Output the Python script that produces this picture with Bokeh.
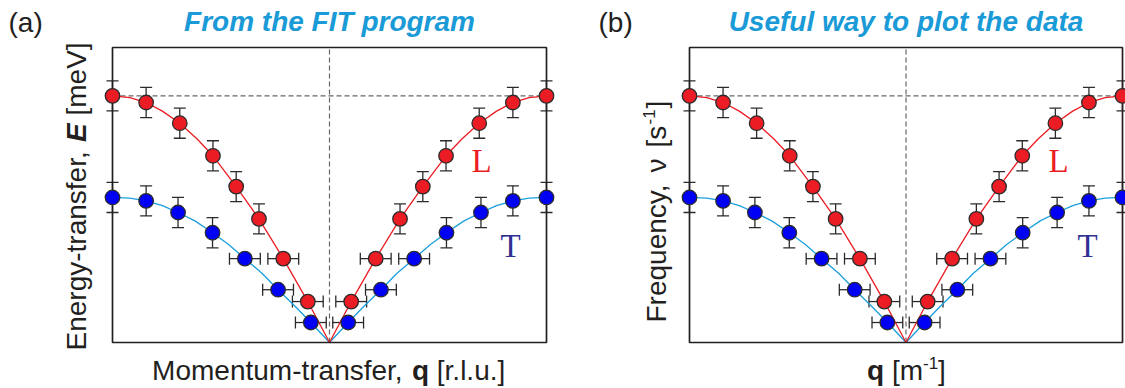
import math
from bokeh.plotting import figure
from bokeh.models import ColumnDataSource, Whisker, TeeHead, Label, Range1d
from bokeh.layouts import row
from bokeh.embed import file_html
from bokeh.resources import INLINE

# ---------------- data ----------------
# longitudinal branch (L), red
q_L = [-1.0, -0.845, -0.69, -0.537, -0.43, -0.325, -0.213, -0.10,
       0.10, 0.213, 0.325, 0.43, 0.537, 0.69, 0.845, 1.0]
E_L = [10.0, 9.73, 8.89, 7.57, 6.32, 5.01, 3.40, 1.66,
       1.66, 3.40, 5.01, 6.32, 7.57, 8.89, 9.73, 10.0]
err_dir_L = ["E", "E", "E", "E", "E", "E", "q", "q",
             "q", "q", "E", "E", "E", "E", "E", "E"]
# transverse branch (T), blue
q_T = [-1.0, -0.845, -0.698, -0.539, -0.39, -0.237, -0.086,
       0.086, 0.237, 0.39, 0.539, 0.698, 0.845, 1.0]
E_T = [5.88, 5.74, 5.27, 4.45, 3.40, 2.14, 0.81,
       0.81, 2.14, 3.40, 4.45, 5.27, 5.74, 5.88]
err_dir_T = ["E", "E", "E", "E", "q", "q", "q",
             "q", "q", "q", "E", "E", "E", "E"]
E_err = 0.61   # vertical error half-width
q_err = 0.071  # horizontal error half-width

# fitted dispersion curves
fit_q_L = [-1.0, -0.92, -0.845, -0.77, -0.69, -0.61, -0.537, -0.43, -0.325, -0.213, -0.10, 0.0,
           0.10, 0.213, 0.325, 0.43, 0.537, 0.61, 0.69, 0.77, 0.845, 0.92, 1.0]
fit_E_L = [10.0, 9.93, 9.73, 9.38, 8.89, 8.25, 7.57, 6.32, 5.01, 3.40, 1.66, 0.0,
           1.66, 3.40, 5.01, 6.32, 7.57, 8.25, 8.89, 9.38, 9.73, 9.93, 10.0]
fit_q_T = [-1.0, -0.92, -0.845, -0.77, -0.698, -0.62, -0.539, -0.465, -0.39, -0.31, -0.237, -0.16, -0.086, 0.0,
           0.086, 0.16, 0.237, 0.31, 0.39, 0.465, 0.539, 0.62, 0.698, 0.77, 0.845, 0.92, 1.0]
fit_E_T = [5.88, 5.85, 5.74, 5.55, 5.27, 4.93, 4.45, 3.97, 3.40, 2.80, 2.14, 1.48, 0.81, 0.0,
           0.81, 1.48, 2.14, 2.80, 3.40, 3.97, 4.45, 4.93, 5.27, 5.55, 5.74, 5.85, 5.88]
E_top = 10.0   # level of the horizontal dashed line
q_min, q_max = -1.0, 1.0
E_min, E_max = 0.0, 11.96

RED = "#ec1c24"
BLUE = "#0000f5"
CYAN = "#1b9fdc"
DARK = "#231f20"
TITLE = "#1a9ad6"
TBLUE = "#2e3192"
FONT = "Liberation Sans"
SERIF = "Liberation Serif"

H = 388
TOP, BOTTOM = 47, 46
BASE_FIX = 0.36   # renderer places alphabetic baseline ~0.36 em low


def make_panel(width, left, right, page_x0, panel_tag, title, xlab, ylab, ylab_x, lt_shift):
    fw = width - left - right
    fh = H - TOP - BOTTOM
    fx0 = page_x0 + left

    def X(px):
        return q_min + (q_max - q_min) * (px - fx0) / fw

    def Y(py):
        return E_min + (H - BOTTOM - py) * (E_max - E_min) / fh

    p = figure(width=width, height=H,
               x_range=Range1d(X(page_x0), X(page_x0 + width)),
               y_range=Range1d(Y(H), Y(0)),
               output_backend="svg", toolbar_location=None,
               min_border_left=0, min_border_right=0,
               min_border_top=0, min_border_bottom=0)
    p.xaxis.visible = False
    p.yaxis.visible = False
    p.grid.visible = False
    p.outline_line_color = None
    p.background_fill_color = "white"
    p.border_fill_color = "white"

    def lab(px, py, text, size, style="normal", color=DARK, align="left",
            angle=0.0, font=FONT):
        if angle == 0.0:
            py = py - BASE_FIX * size
        else:
            px = px - BASE_FIX * size
        p.add_layout(Label(x=X(px), y=Y(py), text=text, text_font=font,
                           text_font_size=f"{size}px", text_font_style=style,
                           text_color=color, text_align=align,
                           text_baseline="alphabetic", angle=angle))

    # error bars (beneath everything else)
    for qs, Es, dirs in ((q_L, E_L, err_dir_L), (q_T, E_T, err_dir_T)):
        vb = dict(base=[], lo=[], hi=[])
        hb = dict(base=[], lo=[], hi=[])
        for q, e, d in zip(qs, Es, dirs):
            if d == "E":
                vb["base"].append(q); vb["lo"].append(e - E_err); vb["hi"].append(e + E_err)
            else:
                hb["base"].append(e); hb["lo"].append(q - q_err); hb["hi"].append(q + q_err)
        for data, dim in ((vb, "height"), (hb, "width")):
            w = Whisker(source=ColumnDataSource(data), base="base", lower="lo", upper="hi",
                        dimension=dim, line_color="#2b2b2b", line_width=1.3, level="underlay",
                        lower_head=TeeHead(size=12, line_color="#2b2b2b", line_width=1.3),
                        upper_head=TeeHead(size=12, line_color="#2b2b2b", line_width=1.3))
            p.add_layout(w)

    # dashed guide lines
    p.segment(x0=[q_min, 0.0], y0=[E_top, E_min], x1=[q_max, 0.0], y1=[E_top, E_max],
              line_color="#666666", line_dash="5 3", line_width=1.2)

    # fit curves
    p.line(fit_q_T, fit_E_T, line_color=CYAN, line_width=1.3)
    p.line(fit_q_L, fit_E_L, line_color=RED, line_width=1.3)

    # panel frame
    p.quad(left=[q_min], right=[q_max], bottom=[E_min], top=[E_max],
           fill_color=None, line_color=DARK, line_width=1.7)

    # data points
    p.scatter(q_T, E_T, size=14.5, fill_color=BLUE, line_color="#2b2b2b", line_width=1.3)
    p.scatter(q_L, E_L, size=14.5, fill_color=RED, line_color="#2b2b2b", line_width=1.3)

    # branch labels
    lab(471 + lt_shift, 172, "L", 33, color=RED, font=SERIF)
    lab(500 + lt_shift, 257, "T", 33, color=TBLUE, font=SERIF)

    # panel tag + title
    lab(page_x0 + panel_tag[0], 32, panel_tag[1], 28)
    lab(fx0 + fw / 2, 31.5, title, 28, style="bold italic", color=TITLE, align="center")

    # axis labels built from pieces
    for (px, text, size, style, dy) in xlab:
        lab(px, 380 - dy, text, size, style=style)
    for (py, text, size, style, dx) in ylab:
        lab(ylab_x - dx, py, text, size, style=style, angle=math.pi / 2)
    return p


xlab_a = [(151.6, "Momentum-transfer,", 28, "normal", 0),
          (411.4, "q", 28, "bold", 0),
          (436.3, "[r.l.u.]", 28, "normal", 0)]
ylab_a = [(350.0, "Energy-transfer,", 28, "normal", 0),
          (141.5, "E", 28, "bold italic", 0),
          (115.0, "[meV]", 28, "normal", 0)]

xlab_b = [(866.5, "q", 28, "bold", 0),
          (891.4, "[m", 28, "normal", 0),
          (922.5, "-1", 17, "normal", 11),
          (937.6, "]", 28, "normal", 0)]
ylab_b = [(322.0, "Frequency,", 28, "normal", 0),
          (172.0, "\u03bd", 28, "normal", 0),
          (147.0, "[s", 28, "normal", 0),
          (124.0, "-1", 17, "normal", 11),
          (108.0, "]", 28, "normal", 0)]

pa = make_panel(562, 112, 16, 0, (8, "(a)"), "From the FIT program", xlab_a, ylab_a, 86, 0)
pb = make_panel(563, 127, 3, 562, (598 - 562, "(b)"), "Useful way to plot the data", xlab_b, ylab_b, 666, 577)

layout = row(pa, pb)
open("out.html", "w").write(file_html(layout, INLINE))
